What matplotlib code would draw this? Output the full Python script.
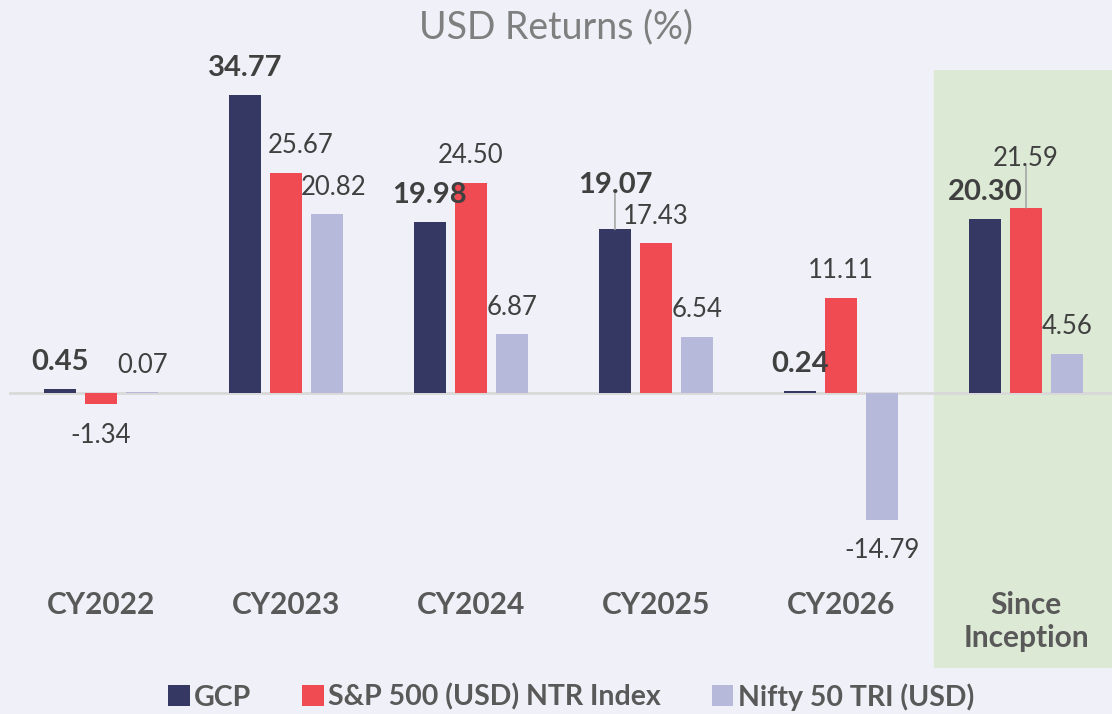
import numpy as np
import matplotlib.pyplot as plt

categories = ['CY2022', 'CY2023', 'CY2024', 'CY2025', 'CY2026', 'Since\nInception']
series_names = ['GCP', 'S&P 500 (USD) NTR Index', 'Nifty 50 TRI (USD)']
gcp = [0.45, 34.77, 19.98, 19.07, 0.24, 20.30]
sp500 = [-1.34, 25.67, 24.50, 17.43, 11.11, 21.59]
nifty = [0.07, 20.82, 6.87, 6.54, -14.79, 4.56]

colors = ['#343862', '#F04A52', '#B6B9DA']
bg = '#F0F0F8'
txt = '#404040'

plt.rcParams['font.family'] = ['Lato', 'DejaVu Sans']

fig = plt.figure(figsize=(11.12, 7.14), dpi=100, facecolor=bg)
# axes: x from 8.5 px to the right edge, y from 70 px to 668 px (top)
W, H = 1112, 714
ax = fig.add_axes([8.5 / W, 1 - 668 / H, (W - 8.5) / W, (668 - 70) / H])
ax.set_facecolor(bg)

ppu = 8.58  # pixels per percent
ax.set_xlim(-0.5, (W - 101) / 185)
ax.set_ylim(-(668 - 393) / ppu, (393 - 70) / ppu)
ax.axis('off')

x = np.arange(len(categories))
width = 0.173
offs = [-0.222, 0, 0.222]

ax.axvspan(4.5, 5.6, color='#DCE9D5', zorder=0)
ax.axhline(0, color='#D9D9D9', lw=2, zorder=1)

# extra lift (px) for labels moved up with a leader line, and sideways nudges
lift = {(0, 3): 17, (1, 5): 22}
nudge = {(1, 1): 15, (2, 1): 6}

for s, (vals, c) in enumerate(zip([gcp, sp500, nifty], colors)):
    xs = x + offs[s]
    ax.bar(xs, vals, width, color=c, lw=0, zorder=2, label=series_names[s])
    for i, (xi, v) in enumerate(zip(xs, vals)):
        extra = lift.get((s, i), 0)
        dy = (27 + extra) if v >= 0 else -31
        ax.annotate(f'{v:.2f}', (xi, v), xytext=(nudge.get((s, i), 0), dy),
                    textcoords='offset pixels', ha='center', va='center', color=txt,
                    fontsize=21 if s == 0 else 18.5,
                    fontweight='bold' if s == 0 else 'normal', zorder=4)
        if extra:
            ax.annotate('', (xi, v), xytext=(0, 8 + extra + 12), textcoords='offset pixels',
                        arrowprops=dict(arrowstyle='-', color='#A6A6A6', lw=1.2,
                                        shrinkA=0, shrinkB=0), zorder=3)

for xi, cat in zip(x, categories):
    ax.text(xi, -(591 - 393) / ppu, cat, ha='center', va='top', fontsize=21.5,
            fontweight='bold', color='#595959', linespacing=1.2)

fig.text(0.5, 1 - 27 / H, 'USD Returns (%)', ha='center', va='center',
         fontsize=27, color='#7F7F7F')

leg = fig.legend(loc='center', bbox_to_anchor=(571 / W, 1 - 697 / H), ncol=3, frameon=False,
                 handlelength=0.75, handleheight=0.75, handletextpad=0.15,
                 columnspacing=1.8, prop={'size': 20.5, 'weight': 'bold'})
for t in leg.get_texts():
    t.set_color('#595959')

fig.savefig('out.png', dpi=100, facecolor=bg)
